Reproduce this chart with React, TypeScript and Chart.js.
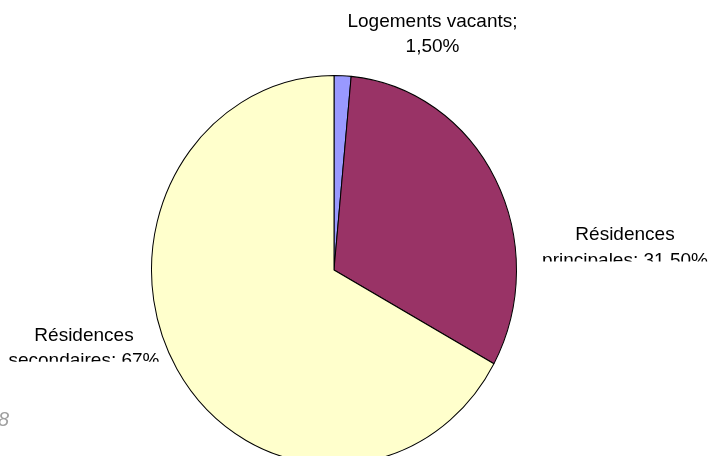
import React, { useEffect, useRef } from "react";
import { Chart, registerables } from "chart.js";

Chart.register(...registerables);

// ---- Data ----
const categories = ["Logements vacants", "Résidences principales", "Résidences secondaires"];
const values = [1.5, 31.5, 67];
const valueLabels = ["1,50%", "31,50%", "67%"];
const colors = ["#9999FF", "#993366", "#FFFFCC"];
// label text lines as shown in the original (line breaks differ per label)
const labelLines = [
  ["Logements vacants;", "1,50%"],
  ["Résidences", "principales; 31,50%"],
  ["Résidences", "secondaires; 67%"],
];
const cornerNote = "8";

const FONT = '"Liberation Sans", Arial, sans-serif';
const Y_STRETCH = 195 / 183;

// label anchor offsets relative to pie centre (dx = text centre, dy = first baseline)
const labelPlacement = [
  { dx: 98.5, dy: -243.5, clip: null as number | null },
  { dx: 291, dy: -30, clip: 21.5 },
  { dx: -250, dy: 70.7, clip: 21 },
];

const ellipsePlugin = {
  id: "ellipse",
  beforeDatasetsDraw(chart: any) {
    const { ctx, chartArea } = chart;
    const cx = (chartArea.left + chartArea.right) / 2;
    const cy = (chartArea.top + chartArea.bottom) / 2;
    ctx.save();
    ctx.translate(cx, cy);
    ctx.scale(1, Y_STRETCH);
    ctx.translate(-cx, -cy);
  },
  afterDatasetsDraw(chart: any) {
    chart.ctx.restore();
  },
};

const labelPlugin = {
  id: "pieLabels",
  afterDraw(chart: any) {
    const { ctx } = chart;
    const meta = chart.getDatasetMeta(0);
    ctx.save();
    ctx.font = `19px ${FONT}`;
    ctx.fillStyle = "#000000";
    ctx.textAlign = "center";
    ctx.textBaseline = "alphabetic";
    meta.data.forEach((arc: any, i: number) => {
      const p = labelPlacement[i];
      const x = arc.x + p.dx;
      const y = arc.y + p.dy;
      ctx.save();
      if (p.clip !== null) {
        ctx.beginPath();
        ctx.rect(0, 0, chart.width, y + p.clip);
        ctx.clip();
      }
      labelLines[i].forEach((line, j) => {
        ctx.fillText(line, x, y + j * 25.5);
      });
      ctx.restore();
    });
    // partially visible corner note
    ctx.font = `italic 20px ${FONT}`;
    ctx.fillStyle = "#a0a0a0";
    ctx.textAlign = "right";
    ctx.fillText(cornerNote, 9, 426);
    ctx.restore();
  },
};

export default function App() {
  const ref = useRef<HTMLCanvasElement | null>(null);
  useEffect(() => {
    if (!ref.current) return;
    const chart = new Chart(ref.current, {
      type: "pie",
      data: {
        labels: categories,
        datasets: [
          {
            data: values,
            backgroundColor: colors,
            borderColor: "#000000",
            borderWidth: 1,
            clip: false as any,
          } as any,
        ],
      },
      options: {
        responsive: false,
        animation: false,
        layout: { padding: { left: 151, right: 198, top: 87, bottom: 3 } },
        plugins: {
          legend: { display: false },
          tooltip: { enabled: false },
        },
      },
      plugins: [ellipsePlugin, labelPlugin],
    });
    return () => chart.destroy();
  }, []);
  return (
    <div style={{ position: "absolute", left: 0, top: 0, width: 715, height: 456, background: "#ffffff" }}>
      <canvas ref={ref} width={715} height={456} style={{ display: "block" }} />
    </div>
  );
}
